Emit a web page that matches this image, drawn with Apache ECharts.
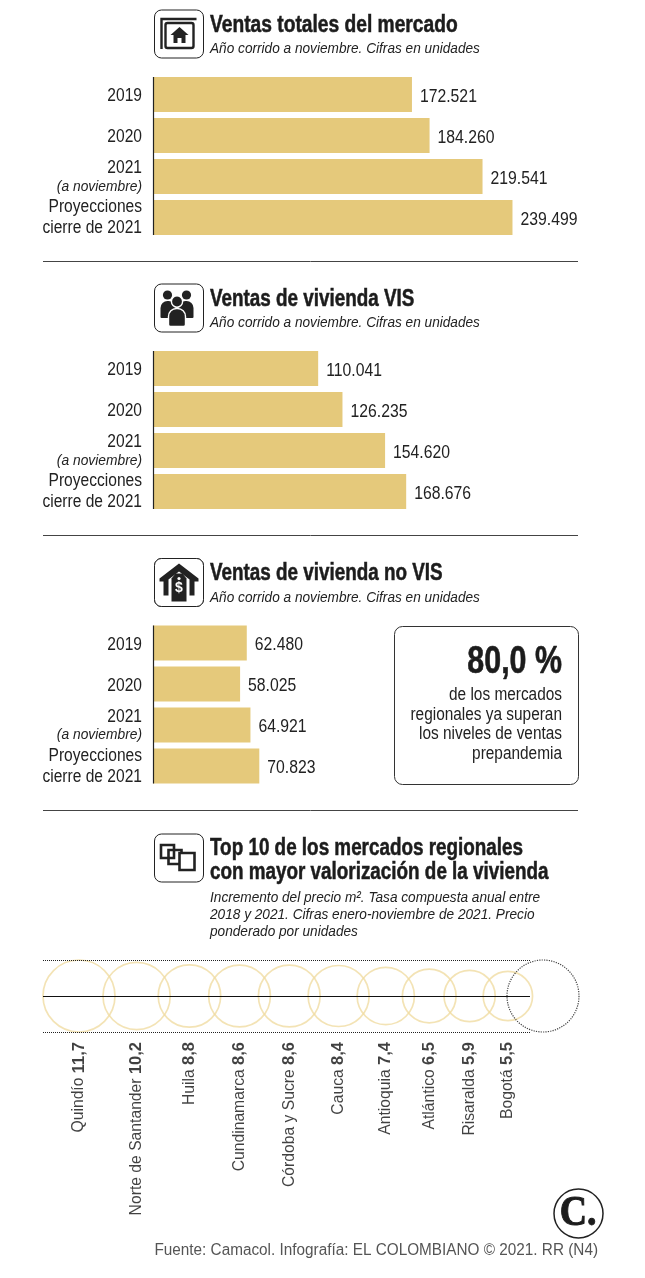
<!DOCTYPE html>
<html><head><meta charset="utf-8">
<style>html,body{margin:0;padding:0;background:#fff}#c{width:645px;height:1278px}</style>
<script src="https://cdn.jsdelivr.net/npm/echarts@6/dist/echarts.min.js"></script>
</head><body><div id="c"></div>
<script>
const categories = ['2019', '2020', '2021', 'Proyecciones cierre de 2021'];
const totalSales = [172521, 184260, 219541, 239499];
const visSales = [110041, 126235, 154620, 168676];
const noVisSales = [62480, 58025, 64921, 70823];
const regions = ['Quindío', 'Norte de Santander', 'Huila', 'Cundinamarca', 'Córdoba y Sucre', 'Cauca', 'Antioquia', 'Atlántico', 'Risaralda', 'Bogotá'];
const regionValues = [11.7, 10.2, 8.8, 8.6, 8.6, 8.4, 7.4, 6.5, 5.9, 5.5];
const sectionTitles = ['Ventas totales del mercado', 'Ventas de vivienda VIS', 'Ventas de vivienda no VIS'];
const sectionSub = 'Año corrido a noviembre. Cifras en unidades';

const SANS = '"Liberation Sans",sans-serif';
const INK = '#222';
const GOLD = '#e5c97b';
const sectionOffsets = [0, 274, 548.5];
const barSets = [totalSales, visSales, noVisSales];

const grid = [], xAxis = [], yAxis = [], series = [];
const fmtThousand = v => String(v).replace(/(\d)(?=(\d{3})$)/, '$1.');
const narrowText = (x, y, t, o = {}, sx = 0.89) => ({type: 'text', x, y, scaleX: sx, silent: true,
  style: Object.assign({text: t, fill: INK, fontFamily: SANS, fontSize: 17.5, textAlign: 'left', textVerticalAlign: 'middle'}, o)});

// category label lines around the bar's centre
const catLines = v => {
  if (v === '2021') return [['2021', -8, {}], ['(a noviembre)', 10, {fontStyle: 'italic', fontSize: 15}]];
  if (v.startsWith('Proy')) return [['Proyecciones', -10, {}], ['cierre de 2021', 11, {}]];
  return [[v, 2, {}]];
};
barSets.forEach((vals, i) => {
  grid.push({left: 153, top: 74 + sectionOffsets[i], width: 450.3, height: 164});
  xAxis.push({gridIndex: i, type: 'value', min: 0, max: 300000, show: false});
  yAxis.push({gridIndex: i, type: 'category', inverse: true, data: categories,
    axisLine: {show: false}, axisTick: {show: false}, axisLabel: {show: false}});
  series.push({type: 'bar', xAxisIndex: i, yAxisIndex: i, data: vals, barWidth: 35, silent: true,
    itemStyle: {color: GOLD}});
  series.push({type: 'custom', xAxisIndex: i, yAxisIndex: i, silent: true, clip: false, z: 5,
    data: vals.map((v, k) => [v, k]), encode: {x: 0, y: 1},
    renderItem: (p, api) => {
      const k = api.value(1), c = api.coord([api.value(0), k]), c0 = api.coord([0, k]);
      return {type: 'group', children: [
        narrowText(c[0] + 8, c[1] + 2.5, fmtThousand(api.value(0)), {fontSize: 18}, 0.875),
        ...catLines(categories[k]).map(([t, dy, st]) =>
          narrowText(c0[0] - 11, c[1] + dy, t, Object.assign({textAlign: 'right'}, st), st.fontStyle ? 0.92 : 0.89))
      ]};
    }});
});

// bubble strip: circles are chained left to right, area proportional to value
const maxR = 36, overlap = 12, stripLeft = 43, stripRight = 579;
const radius = v => maxR * Math.sqrt(v / regionValues[0]);
const centers = [];
regionValues.forEach((v, i) => {
  centers.push(i === 0 ? stripLeft + radius(v) : centers[i - 1] + radius(regionValues[i - 1]) + radius(v) - overlap);
});
const STRIP = 3, MID = 46, LABEL_Y = 92;
grid.push({left: 0, top: 950, width: 645, height: 100});
xAxis.push({gridIndex: STRIP, type: 'value', min: 0, max: 645, show: false});
yAxis.push({gridIndex: STRIP, type: 'value', min: 0, max: 100, inverse: true, show: false});
series.push({type: 'scatter', xAxisIndex: STRIP, yAxisIndex: STRIP, silent: true, z: 2,
  data: regionValues.map((v, i) => ({value: [centers[i], MID], symbolSize: 2 * radius(v)})),
  itemStyle: {color: 'rgba(0,0,0,0)', borderColor: '#f0dca2', borderWidth: 1.7}});
series.push({type: 'scatter', xAxisIndex: STRIP, yAxisIndex: STRIP, silent: true, z: 3,
  data: [{value: [stripRight - maxR, MID], symbolSize: 2 * maxR}],
  itemStyle: {color: 'rgba(0,0,0,0)', borderColor: '#111', borderWidth: 1.2, borderType: 'dotted'}});
series.push({type: 'scatter', xAxisIndex: STRIP, yAxisIndex: STRIP, silent: true, z: 4, symbolSize: 0,
  data: regions.map((r, i) => ({value: [centers[i], LABEL_Y], name: r})),
  label: {show: true, position: 'inside', rotate: 90, align: 'right', verticalAlign: 'middle',
    fontFamily: SANS, fontSize: 15.7, color: '#111',
    formatter: p => `${regions[p.dataIndex]} {v|${regionValues[p.dataIndex].toFixed(1).replace('.', ',')}}`,
    rich: {v: {fontFamily: SANS, fontWeight: 'bold', fontSize: 16.5, color: '#111'}}}});

// static drawing
const g = [];
const text = (x, y, t, o = {}, sx = 1) => g.push({type: 'text', x, y, scaleX: sx, silent: true, z: 10, style: Object.assign({
  text: t, fill: INK, fontFamily: SANS, fontSize: 17, textAlign: 'left', textVerticalAlign: 'middle'}, o)});
const rule = (x1, y1, x2, y2, st = {}) => g.push({type: 'line', silent: true, z: 10, shape: {x1, y1, x2, y2},
  style: Object.assign({stroke: INK, lineWidth: 1}, st)});
const iconBox = (y) => g.push({type: 'rect', silent: true, z: 10, shape: {x: 154.5, y: y, width: 49, height: 48, r: 7},
  style: {fill: '#fff', stroke: INK, lineWidth: 1}});
const shape = (yBase, d) => g.push({type: 'group', silent: true, z: 11, x: 154.5, y: yBase, children: d.map(c => ({type: c.t, shape: c.s, z: 11, silent: true,
  style: Object.assign({fill: INK, stroke: 'none'}, c.st || {})}))});

const TITLE = {fontWeight: 'bold', fontSize: 23, fill: '#1c1c1c', stroke: '#1c1c1c', lineWidth: 0.5};
const TSX = [0.835, 0.82, 0.82];
const SUB = {fontStyle: 'italic', fontSize: 15.5, fill: INK};
const SSX = 0.88;
sectionTitles.forEach((t, i) => {
  const o = sectionOffsets[i];
  text(210, 25.5 + o, t, TITLE, TSX[i]);
  text(210, 49 + o, sectionSub, SUB, SSX);
  iconBox(10 + o);
  rule(153.5, 77 + o, 153.5, 235 + o, {lineWidth: 1.2});
});
[261, 535, 810].forEach(y => rule(43, y + 0.5, 578, y + 0.5, {stroke: '#444'}));

// icon 1: hanging house sign
shape(10, [
  {t: 'polyline', s: {points: [[7, 39], [7, 9], [42, 9]]}, st: {fill: 'none', stroke: INK, lineWidth: 2.4}},
  {t: 'rect', s: {x: 11, y: 13, width: 28, height: 25, r: 2}, st: {fill: 'none', stroke: INK, lineWidth: 2.4}},
  {t: 'polygon', s: {points: [[25, 17], [34, 25], [31, 25], [31, 33], [27, 33], [27, 28], [23, 28], [23, 33], [19, 33], [19, 25], [16, 25]]}}
]);
// icon 2: three people
shape(284, [
  {t: 'circle', s: {cx: 13, cy: 11, r: 4.6}},
  {t: 'circle', s: {cx: 32, cy: 11, r: 4.6}},
  {t: 'rect', s: {x: 6, y: 17, width: 15, height: 17, r: [7, 7, 1, 1]}},
  {t: 'rect', s: {x: 24, y: 17, width: 15, height: 17, r: [7, 7, 1, 1]}},
  {t: 'circle', s: {cx: 22.5, cy: 17.5, r: 5.6}, st: {fill: INK, stroke: '#fff', lineWidth: 1.4}},
  {t: 'rect', s: {x: 14, y: 24.5, width: 17, height: 18, r: [8, 8, 2, 2]}, st: {fill: INK, stroke: '#fff', lineWidth: 1.4}}
]);
// icon 3: house with price tag
iconBox(558.5);
shape(558.5, [
  {t: 'polygon', s: {points: [[24.5, 5], [44, 20], [44, 23], [40, 23], [40, 37], [35, 37], [35, 21], [24.5, 13], [14, 21], [14, 37], [9, 37], [9, 23], [5, 23], [5, 20]]}},
  {t: 'polygon', s: {points: [[21, 15], [28, 15], [32, 20], [32, 43], [17, 43], [17, 20]]}},
  {t: 'circle', s: {cx: 24.5, cy: 20, r: 1.6}, st: {fill: '#fff'}}
]);
text(179, 588.5, '$', {fontSize: 14, fontWeight: 'bold', fill: '#fff', textAlign: 'center'});
g[g.length - 1].z = 12;
// icon 4: overlapping squares
iconBox(834);
shape(834, [
  {t: 'rect', s: {x: 6.5, y: 11, width: 13, height: 13}, st: {fill: 'none', stroke: INK, lineWidth: 2.6}},
  {t: 'rect', s: {x: 14, y: 16, width: 13, height: 14}, st: {fill: 'none', stroke: INK, lineWidth: 2.6}},
  {t: 'rect', s: {x: 25, y: 19, width: 15, height: 17}, st: {fill: '#fff', stroke: INK, lineWidth: 2.6}}
]);

// callout box
g.push({type: 'rect', silent: true, z: 10, shape: {x: 394.5, y: 626.5, width: 184, height: 158, r: 8}, style: {fill: '#fff', stroke: '#333', lineWidth: 1}});
text(562, 663, '80,0 %', {fontWeight: 'bold', fontSize: 38, textAlign: 'right', fill: '#1c1c1c', stroke: '#1c1c1c', lineWidth: 0.6}, 0.80);
[['de los mercados', 695], ['regionales ya superan', 715], ['los niveles de ventas', 734], ['prepandemia', 754]].forEach(([t, y]) =>
  text(562, y, t, {fontSize: 17.5, textAlign: 'right'}, 0.88));

// fourth section header
text(210, 848.5, 'Top 10 de los mercados regionales', TITLE, 0.82);
text(210, 872.5, 'con mayor valorización de la vivienda', TITLE, 0.82);
text(210, 898, 'Incremento del precio m². Tasa compuesta anual entre', SUB, SSX);
text(210, 915, '2018 y 2021. Cifras enero-noviembre de 2021. Precio', SUB, SSX);
text(210, 932, 'ponderado por unidades', SUB, SSX);

// strip guides
rule(43, 960.5, 530, 960.5, {lineDash: [1, 1], lineWidth: 1});
rule(43, 1032.5, 530, 1032.5, {lineDash: [1, 1], lineWidth: 1});
g.push({type: 'line', silent: true, z: 50, shape: {x1: 43, y1: 996.5, x2: 530, y2: 996.5}, style: {stroke: '#111', lineWidth: 1.2}});

// logo and source
g.push({type: 'circle', silent: true, z: 10, shape: {cx: 578.5, cy: 1213.5, r: 24.5}, style: {fill: '#fff', stroke: INK, lineWidth: 1.5}});
text(578, 1214, 'C.', {fontFamily: '"Liberation Serif",serif', fontWeight: 'bold', fontSize: 42, textAlign: 'center', fill: '#1c1c1c', stroke: '#1c1c1c', lineWidth: 1}, 0.9);
text(598, 1251, 'Fuente: Camacol. Infografía: EL COLOMBIANO © 2021. RR (N4)', {fontSize: 16, textAlign: 'right', fill: '#555'}, 0.957);

const chart = echarts.init(document.getElementById('c'), null, {renderer: 'canvas'});
chart.setOption({animation: false, backgroundColor: '#fff', grid, xAxis, yAxis, series, graphic: {elements: g}});
</script></body></html>
